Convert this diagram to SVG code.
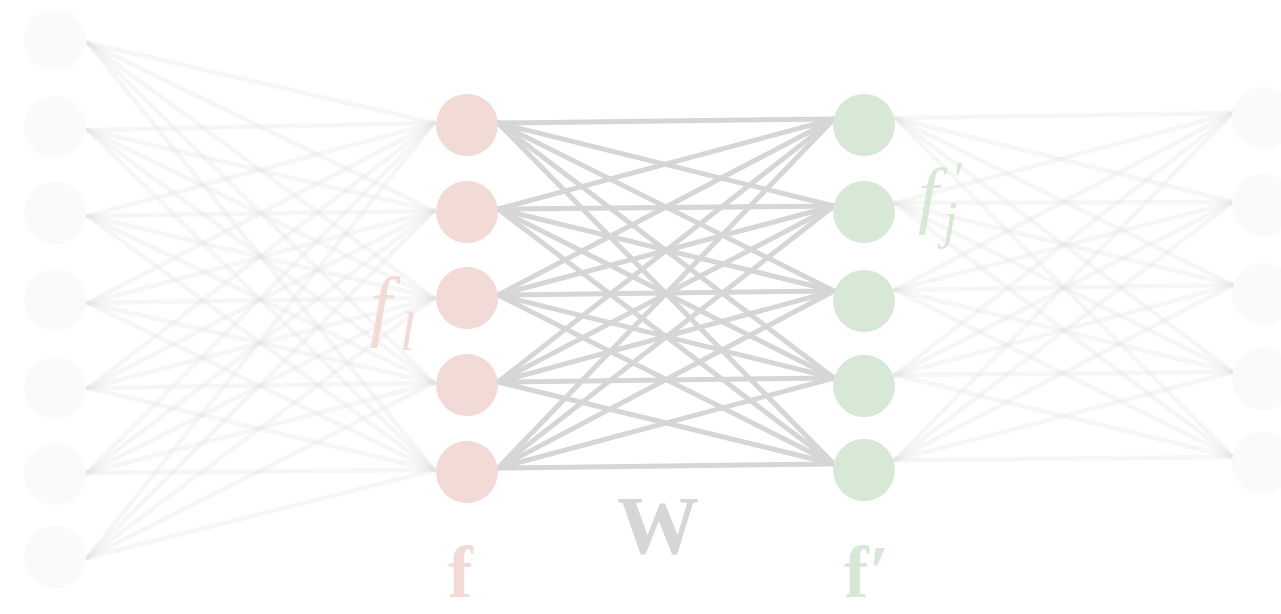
<svg xmlns="http://www.w3.org/2000/svg" width="1281" height="614" viewBox="0 0 1281 614">
<style>
.faded line{stroke:#e0e0e0;stroke-opacity:0.3;stroke-width:4.5;stroke-linecap:round}
.w line{stroke:#d6d6d6;stroke-width:5;stroke-linecap:round}
.nf{fill:#fafafa}
.np{fill:#f2dad6}
.ng{fill:#d8e8d6}
.t{font-family:"Liberation Serif","DejaVu Serif",serif}
</style>
<rect width="1281" height="614" fill="#ffffff"/>
<g id="connectors">
<g class="faded">
<line x1="88" y1="43" x2="434" y2="123"/><line x1="88" y1="43" x2="434" y2="211"/><line x1="88" y1="43" x2="434" y2="298"/><line x1="88" y1="43" x2="434" y2="383"/><line x1="88" y1="43" x2="434" y2="470"/>
<line x1="88" y1="130" x2="434" y2="123"/><line x1="88" y1="130" x2="434" y2="211"/><line x1="88" y1="130" x2="434" y2="298"/><line x1="88" y1="130" x2="434" y2="383"/><line x1="88" y1="130" x2="434" y2="470"/>
<line x1="88" y1="216" x2="434" y2="123"/><line x1="88" y1="216" x2="434" y2="211"/><line x1="88" y1="216" x2="434" y2="298"/><line x1="88" y1="216" x2="434" y2="383"/><line x1="88" y1="216" x2="434" y2="470"/>
<line x1="88" y1="303" x2="434" y2="123"/><line x1="88" y1="303" x2="434" y2="211"/><line x1="88" y1="303" x2="434" y2="298"/><line x1="88" y1="303" x2="434" y2="383"/><line x1="88" y1="303" x2="434" y2="470"/>
<line x1="88" y1="388" x2="434" y2="123"/><line x1="88" y1="388" x2="434" y2="211"/><line x1="88" y1="388" x2="434" y2="298"/><line x1="88" y1="388" x2="434" y2="383"/><line x1="88" y1="388" x2="434" y2="470"/>
<line x1="87" y1="473" x2="434" y2="123"/><line x1="87" y1="473" x2="434" y2="211"/><line x1="87" y1="473" x2="434" y2="298"/><line x1="87" y1="473" x2="434" y2="383"/><line x1="87" y1="473" x2="434" y2="470"/>
<line x1="87" y1="558" x2="434" y2="123"/><line x1="87" y1="558" x2="434" y2="211"/><line x1="87" y1="558" x2="434" y2="298"/><line x1="87" y1="558" x2="434" y2="383"/><line x1="87" y1="558" x2="434" y2="470"/>
</g>
<g class="faded">
<line x1="895" y1="118" x2="1233" y2="113"/><line x1="895" y1="118" x2="1233" y2="202"/><line x1="895" y1="118" x2="1233" y2="285"/><line x1="895" y1="118" x2="1233" y2="372"/><line x1="895" y1="118" x2="1233" y2="457"/>
<line x1="895" y1="203" x2="1233" y2="113"/><line x1="895" y1="203" x2="1233" y2="202"/><line x1="895" y1="203" x2="1233" y2="285"/><line x1="895" y1="203" x2="1233" y2="372"/><line x1="895" y1="203" x2="1233" y2="457"/>
<line x1="895" y1="290" x2="1233" y2="113"/><line x1="895" y1="290" x2="1233" y2="202"/><line x1="895" y1="290" x2="1233" y2="285"/><line x1="895" y1="290" x2="1233" y2="372"/><line x1="895" y1="290" x2="1233" y2="457"/>
<line x1="895" y1="375" x2="1233" y2="113"/><line x1="895" y1="375" x2="1233" y2="202"/><line x1="895" y1="375" x2="1233" y2="285"/><line x1="895" y1="375" x2="1233" y2="372"/><line x1="895" y1="375" x2="1233" y2="457"/>
<line x1="895" y1="460" x2="1233" y2="113"/><line x1="895" y1="460" x2="1233" y2="202"/><line x1="895" y1="460" x2="1233" y2="285"/><line x1="895" y1="460" x2="1233" y2="372"/><line x1="895" y1="460" x2="1233" y2="457"/>
</g>
<g class="w">
<line x1="498" y1="123" x2="834" y2="119"/><line x1="498" y1="123" x2="834" y2="206"/><line x1="498" y1="123" x2="834" y2="291"/><line x1="498" y1="123" x2="834" y2="378"/><line x1="498" y1="123" x2="834" y2="464"/>
<line x1="498" y1="209" x2="834" y2="119"/><line x1="498" y1="209" x2="834" y2="206"/><line x1="498" y1="209" x2="834" y2="291"/><line x1="498" y1="209" x2="834" y2="378"/><line x1="498" y1="209" x2="834" y2="464"/>
<line x1="498" y1="295" x2="834" y2="119"/><line x1="498" y1="295" x2="834" y2="206"/><line x1="498" y1="295" x2="834" y2="291"/><line x1="498" y1="295" x2="834" y2="378"/><line x1="498" y1="295" x2="834" y2="464"/>
<line x1="498" y1="382" x2="834" y2="119"/><line x1="498" y1="382" x2="834" y2="206"/><line x1="498" y1="382" x2="834" y2="291"/><line x1="498" y1="382" x2="834" y2="378"/><line x1="498" y1="382" x2="834" y2="464"/>
<line x1="498" y1="468" x2="834" y2="119"/><line x1="498" y1="468" x2="834" y2="206"/><line x1="498" y1="468" x2="834" y2="291"/><line x1="498" y1="468" x2="834" y2="378"/><line x1="498" y1="468" x2="834" y2="464"/>
</g>
</g>
<g id="input-layer">
<circle id="in1" class="nf" cx="55" cy="40" r="31"/>
<circle id="in2" class="nf" cx="55" cy="127" r="31"/>
<circle id="in3" class="nf" cx="55" cy="213" r="31"/>
<circle id="in4" class="nf" cx="55" cy="300" r="31"/>
<circle id="in5" class="nf" cx="55" cy="388" r="31"/>
<circle id="in6" class="nf" cx="55" cy="474" r="31"/>
<circle id="in7" class="nf" cx="55" cy="557" r="31"/>
</g>
<g id="f-layer">
<circle id="f1" class="np" cx="467" cy="125" r="31"/>
<circle id="f2" class="np" cx="467" cy="212" r="31"/>
<circle id="f3" class="np" cx="467" cy="298" r="31"/>
<circle id="f4" class="np" cx="467" cy="385" r="31"/>
<circle id="f5" class="np" cx="467" cy="472" r="31"/>
</g>
<g id="fprime-layer">
<circle id="g1" class="ng" cx="864" cy="125" r="31"/>
<circle id="g2" class="ng" cx="864" cy="212" r="31"/>
<circle id="g3" class="ng" cx="864" cy="301" r="31"/>
<circle id="g4" class="ng" cx="864" cy="386" r="31"/>
<circle id="g5" class="ng" cx="864" cy="470" r="31"/>
</g>
<g id="output-layer">
<circle id="out1" class="nf" cx="1263" cy="118" r="31"/>
<circle id="out2" class="nf" cx="1263" cy="205" r="31"/>
<circle id="out3" class="nf" cx="1263" cy="294" r="31"/>
<circle id="out4" class="nf" cx="1263" cy="379" r="31"/>
<circle id="out5" class="nf" cx="1263" cy="463" r="31"/>
</g>
<g id="labels">
<text class="t" x="370" y="331" font-size="78" font-style="italic" fill="#f2dad6">f</text>
<text class="t" x="400" y="350" font-size="54" font-style="italic" fill="#f2dad6">l</text>
<text class="t" x="918" y="219" font-size="75" font-style="italic" fill="#d8e8d6">f</text>
<text class="t" x="954" y="196" font-size="50" fill="#d8e8d6">′</text>
<text class="t" x="943" y="238" font-size="52" font-style="italic" fill="#d8e8d6">j</text>
<text class="t" x="658" y="553" font-size="82" font-weight="bold" text-anchor="middle" fill="#d6d6d6">W</text>
<text class="t" x="448" y="597" font-size="74" font-weight="bold" fill="#f2dad6">f</text>
<text class="t" x="844" y="597" font-size="74" font-weight="bold" fill="#d8e8d6">f′</text>
</g>
</svg>
